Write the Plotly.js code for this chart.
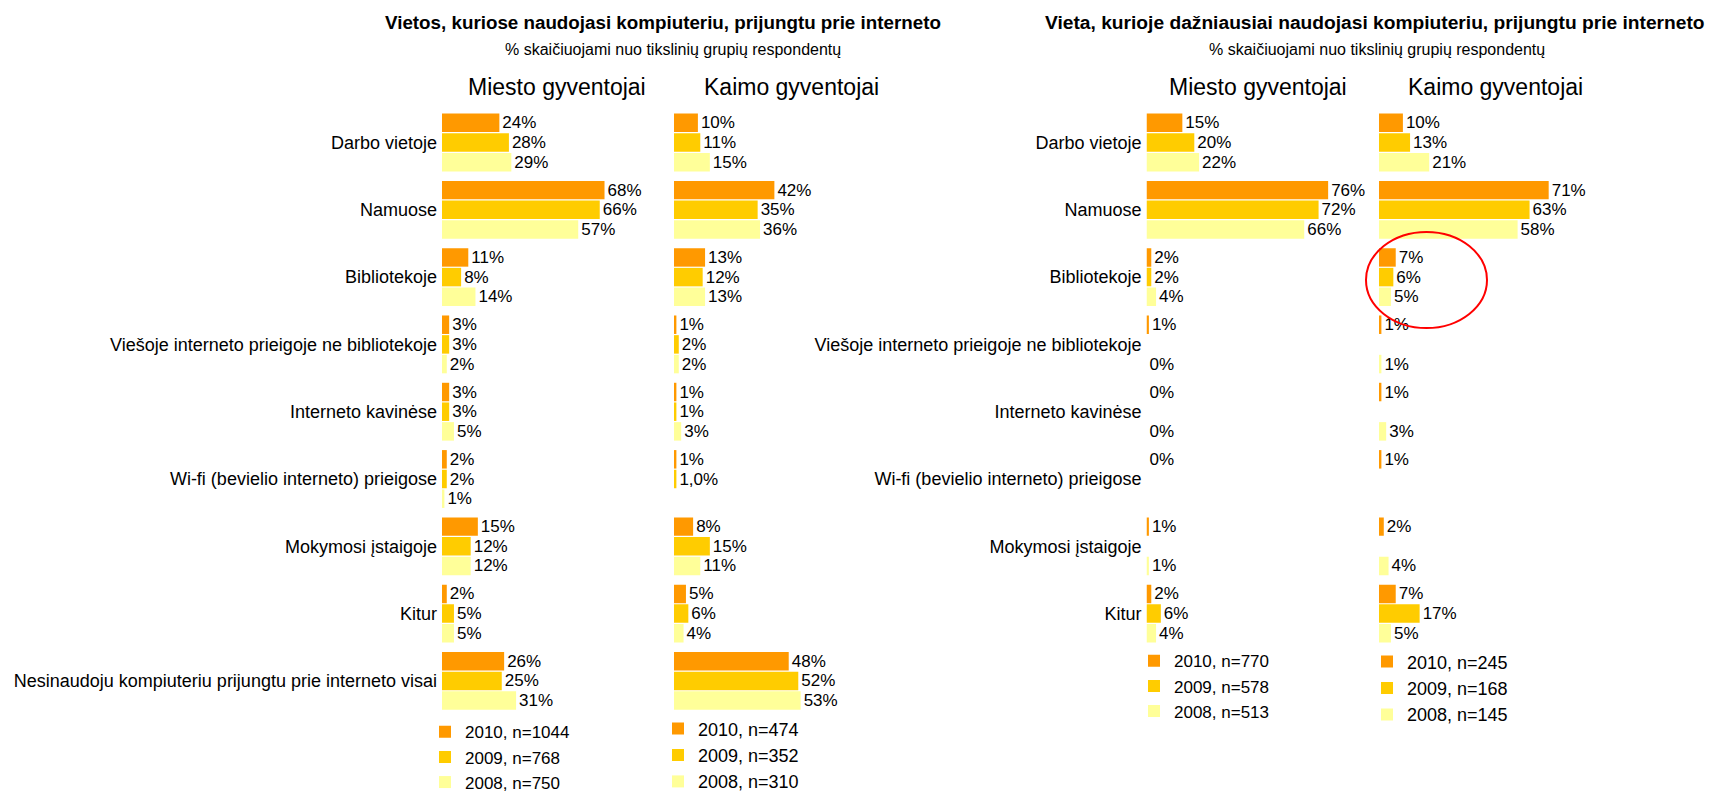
<!DOCTYPE html>
<html>
<head>
<meta charset="utf-8">
<script src="https://cdn.plot.ly/plotly-3.0.1.min.js"></script>
<style>
html,body{margin:0;padding:0;background:#fff;overflow:hidden;}
#frame{width:1711px;height:793px;overflow:hidden;position:relative;}
#chart{width:1711px;height:830px;}
</style>
</head>
<body>
<div id="frame"><div id="chart"></div></div>
<script>
// ---------- DATA ----------
const categoriesLeft = [
  "Darbo vietoje", "Namuose", "Bibliotekoje",
  "Viešoje interneto prieigoje ne bibliotekoje", "Interneto kavinėse",
  "Wi-fi (bevielio interneto) prieigose", "Mokymosi įstaigoje", "Kitur",
  "Nesinaudoju kompiuteriu prijungtu prie interneto visai"
];
const categoriesRight = categoriesLeft.slice(0, 8);

// Left panel: Vietos, kuriose naudojasi kompiuteriu...
const leftMiesto2010 = [24, 68, 11, 3, 3, 2, 15, 2, 26];
const leftMiesto2009 = [28, 66, 8, 3, 3, 2, 12, 5, 25];
const leftMiesto2008 = [29, 57, 14, 2, 5, 1, 12, 5, 31];
const leftKaimo2010 = [10, 42, 13, 1, 1, 1, 8, 5, 48];
const leftKaimo2009 = [11, 35, 12, 2, 1, 1.0, 15, 6, 52];
const leftKaimo2008 = [15, 36, 13, 2, 3, null, 11, 4, 53];
const leftKaimo2009Labels = [null, null, null, null, null, "1,0%", null, null, null];

// Right panel: Vieta, kurioje dažniausiai naudojasi...
const rightMiesto2010 = [15, 76, 2, 1, 0, 0, 1, 2];
const rightMiesto2009 = [20, 72, 2, null, null, null, null, 6];
const rightMiesto2008 = [22, 66, 4, 0, 0, null, 1, 4];
const rightKaimo2010 = [10, 71, 7, 1, 1, 1, 2, 7];
const rightKaimo2009 = [13, 63, 6, null, null, null, null, 17];
const rightKaimo2008 = [21, 58, 5, 1, 3, null, 4, 5];

const legendLeftMiesto = ["2010, n=1044", "2009, n=768", "2008, n=750"];
const legendLeftKaimo = ["2010, n=474", "2009, n=352", "2008, n=310"];
const legendRightMiesto = ["2010, n=770", "2009, n=578", "2008, n=513"];
const legendRightKaimo = ["2010, n=245", "2009, n=168", "2008, n=145"];

const titleLeft = "Vietos, kuriose naudojasi kompiuteriu, prijungtu prie interneto";
const titleRight = "Vieta, kurioje dažniausiai naudojasi kompiuteriu, prijungtu prie interneto";
const subtitle = "% skaičiuojami nuo tikslinių grupių respondentų";
const groupTitles = ["Miesto gyventojai", "Kaimo gyventojai"];

// ---------- STYLE ----------
const W = 1711, HF = 830; // figure is taller than the 793px frame so the bottom legends are not squeezed
const colors = ["#FF9900", "#FFCC00", "#FFFF99"];
const FONT = "'Liberation Sans', Arial, sans-serif";
const px = v => v / W;
const py = v => 1 - v / HF;
const SCALE = 2.39; // px per percent
const XMAX = 80;

function label(v, override) {
  if (override) return override;
  if (v === null || v === undefined) return "";
  return Math.round(v) + "%";
}

const traces = [];
function addSeries(values, cats, name, color, xa, ya, legend, group, overrides) {
  traces.push({
    type: "bar", orientation: "h",
    x: values, y: cats,
    name: name,
    xaxis: xa, yaxis: ya,
    legend: legend, legendgroup: group,
    marker: {color: color, line: {width: 0}},
    text: values.map((v, i) => label(v, overrides ? overrides[i] : null)),
    textposition: "outside",
    cliponaxis: false,
    constraintext: "none",
    textfont: {family: FONT, size: 17, color: "#000"},
    hoverinfo: "x+y+name"
  });
}

const LM = [leftMiesto2010, leftMiesto2009, leftMiesto2008];
const LK = [leftKaimo2010, leftKaimo2009, leftKaimo2008];
const RM = [rightMiesto2010, rightMiesto2009, rightMiesto2008];
const RK = [rightKaimo2010, rightKaimo2009, rightKaimo2008];
for (let i = 0; i < 3; i++) addSeries(LM[i], categoriesLeft, legendLeftMiesto[i], colors[i], "x", "y", "legend", "a" + i);
for (let i = 0; i < 3; i++) addSeries(LK[i], categoriesLeft, legendLeftKaimo[i], colors[i], "x2", "y", "legend2", "b" + i, i === 1 ? leftKaimo2009Labels : null);
for (let i = 0; i < 3; i++) addSeries(RM[i], categoriesRight, legendRightMiesto[i], colors[i], "x3", "y2", "legend3", "c" + i);
for (let i = 0; i < 3; i++) addSeries(RK[i], categoriesRight, legendRightKaimo[i], colors[i], "x4", "y2", "legend4", "d" + i);

const xStarts = [442, 674, 1146.5, 1379];
function xAxis(i, anchor) {
  const x0 = xStarts[i];
  return {
    domain: [px(x0), px(x0 + XMAX * SCALE)],
    range: [0, XMAX], anchor: anchor,
    showgrid: false, zeroline: false, showline: false,
    showticklabels: false, ticks: "", fixedrange: true
  };
}
const rowH = 67.3, firstRow = 142.5;
function yAxis(n, anchor) {
  const top = firstRow - rowH / 2, bot = firstRow + (n - 1) * rowH + rowH / 2;
  return {
    domain: [py(bot), py(top)], anchor: anchor,
    autorange: "reversed", type: "category",
    showgrid: false, zeroline: false, showline: false, ticks: "",
    ticklabelstandoff: 4,
    tickfont: {family: FONT, size: 18, color: "#000"}, fixedrange: true
  };
}

function legendAt(x, y, size, gap) {
  return {
    x: px(x), y: py(y), xanchor: "left", yanchor: "top",
    bgcolor: "rgba(0,0,0,0)", borderwidth: 0,
    font: {family: FONT, size: size, color: "#000"},
    traceorder: "grouped", tracegroupgap: gap, itemwidth: 30
  };
}

const ann = [];
function addText(text, x, y, size, bold) {
  ann.push({
    text: bold ? "<b>" + text + "</b>" : text,
    x: px(x), y: py(y), xref: "paper", yref: "paper",
    xanchor: "center", yanchor: "middle", showarrow: false,
    font: {family: FONT, size: size, color: "#000"}
  });
}
addText(titleLeft, 663, 22, 18.8, true);
addText(subtitle, 673, 49, 16, false);
addText(titleRight, 1375, 22, 19.2, true);
addText(subtitle, 1377, 49, 16, false);
addText(groupTitles[0], 557, 87, 23, false);
addText(groupTitles[1], 791, 87, 23, false);
addText(groupTitles[0], 1258, 87, 23, false);
addText(groupTitles[1], 1495, 87, 23, false);

const layout = {
  width: W, height: HF,
  margin: {l: 0, r: 0, t: 0, b: 0, autoexpand: false},
  paper_bgcolor: "#fff", plot_bgcolor: "rgba(0,0,0,0)",
  barmode: "group", bargap: 0.123, bargroupgap: 0.06,
  font: {family: FONT, size: 17, color: "#000"},
  xaxis: xAxis(0, "y"), xaxis2: xAxis(1, "y"),
  xaxis3: xAxis(2, "y2"), xaxis4: xAxis(3, "y2"),
  yaxis: yAxis(categoriesLeft.length, "x"),
  yaxis2: yAxis(categoriesRight.length, "x3"),
  legend: legendAt(425, 714.3, 17, 0),
  legend2: legendAt(658, 710.4, 18, 0),
  legend3: legendAt(1134, 643.3, 17, 0),
  legend4: legendAt(1367, 643.4, 18, 0),
  annotations: ann,
  shapes: [{
    type: "circle", xref: "paper", yref: "paper",
    x0: px(1366), x1: px(1487), y0: py(328), y1: py(232),
    line: {color: "#FF0000", width: 2}, fillcolor: "rgba(0,0,0,0)"
  }],
  showlegend: true
};

Plotly.newPlot("chart", traces, layout, {displayModeBar: false, staticPlot: true});
</script>
</body>
</html>
